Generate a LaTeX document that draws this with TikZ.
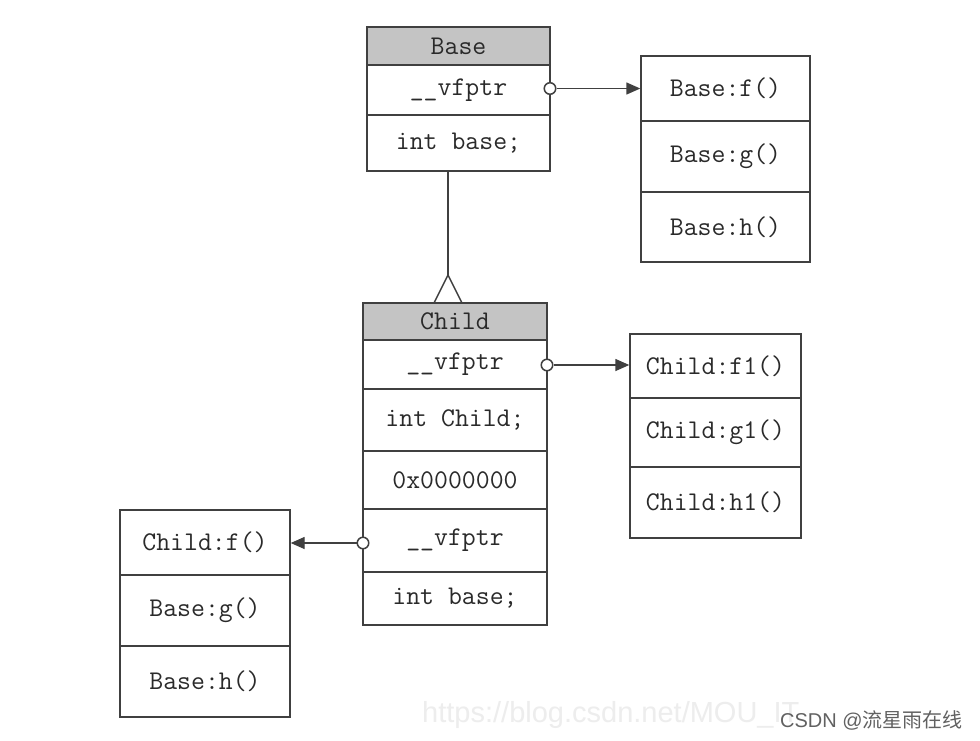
\documentclass[tikz,border=0pt]{standalone}
\usepackage{fontspec}
\newfontfamily\wmfont{Liberation Sans}
\newfontfamily\cjkfont{Noto Sans CJK SC}
\usetikzlibrary{arrows.meta}
\definecolor{linec}{HTML}{404040}
\definecolor{textc}{HTML}{2A2A2A}
\definecolor{headc}{HTML}{C4C4C4}
\tikzset{
  cell/.style={draw=linec, line width=1.4pt, inner sep=0pt, text=textc,
    font=\ttfamily\fontsize{27}{27}\selectfont, anchor=center},
  headcell/.style={cell, fill=headc},
  knob/.style={circle, draw=linec, line width=1.5pt, fill=white, minimum size=11.5pt, inner sep=0pt},
  ptr/.style={draw=linec, line width=1.4pt, -{Triangle[length=14pt,width=12pt]}},
  inh/.style={draw=linec, line width=1.4pt}
}
\begin{document}
\begin{tikzpicture}[x=1pt,y=-1pt]
\useasboundingbox[fill=white] (0,0) rectangle (980,740);
% Base class
\node[headcell, minimum width=183pt, minimum height=38pt] (bh) at (458.5,46) {Base};
\node[cell, minimum width=183pt, minimum height=50pt] (bv) at (458.5,90) {\_\_vfptr};
\node[cell, minimum width=183pt, minimum height=56pt] (bi) at (458.5,143) {int base;};
% Base vtable
\node[cell, minimum width=169pt, minimum height=65pt] (r1) at (725.5,88.5) {Base:f()};
\node[cell, minimum width=169pt, minimum height=71pt] (r2) at (725.5,156.5) {Base:g()};
\node[cell, minimum width=169pt, minimum height=70pt] (r3) at (725.5,227) {Base:h()};
% Child class
\node[headcell, minimum width=184pt, minimum height=37pt] (ch) at (455,321.5) {Child};
\node[cell, minimum width=184pt, minimum height=49pt] (cv1) at (455,364.5) {\_\_vfptr};
\node[cell, minimum width=184pt, minimum height=62pt] (ci) at (455,420) {int Child;};
\node[cell, minimum width=184pt, minimum height=58pt] (c0) at (455,480) {0x0000000};
\node[cell, minimum width=184pt, minimum height=63pt] (cv2) at (455,540.5) {\_\_vfptr};
\node[cell, minimum width=184pt, minimum height=53pt] (cb) at (455,598.5) {int base;};
% Child vtable 1
\node[cell, minimum width=171pt, minimum height=64pt] (s1) at (715.5,366) {Child:f1()};
\node[cell, minimum width=171pt, minimum height=69pt] (s2) at (715.5,432.5) {Child:g1()};
\node[cell, minimum width=171pt, minimum height=71pt] (s3) at (715.5,502.5) {Child:h1()};
% Child vtable 2
\node[cell, minimum width=170pt, minimum height=65pt] (t1) at (205,542.5) {Child:f()};
\node[cell, minimum width=170pt, minimum height=71pt] (t2) at (205,610.5) {Base:g()};
\node[cell, minimum width=170pt, minimum height=71pt] (t3) at (205,681.5) {Base:h()};
% inheritance
\coordinate (apex) at (448,275);
\coordinate (legl) at (434,303);
\coordinate (legr) at (462,303);
\draw[inh] (bi.south -| apex) -- (apex);
\draw[inh, line join=miter] (legl) -- (apex) -- (legr);
% pointers
\node[knob] (k1) at (550,88.5) {};
\draw[ptr] (k1.east) -- (k1.east -| r1.west);
\node[knob] (k2) at (547,365) {};
\draw[ptr] (k2.east) -- (k2.east -| s1.west);
\node[knob] (k3) at (363,543) {};
\draw[ptr] (k3.west) -- (k3.west -| t1.east);
% watermarks
\node[anchor=base west, inner sep=0pt, text=black!7, font=\wmfont\fontsize{29}{29}\selectfont] (wm) at (422,722) {https://blog.csdn.net/MOU\_IT};
\node[anchor=base west, inner sep=0pt, text=black!62, font=\wmfont\fontsize{20}{20}\selectfont] (wm2) at (780,727) {CSDN @{\cjkfont 流星雨在线}};
\end{tikzpicture}
\end{document}
